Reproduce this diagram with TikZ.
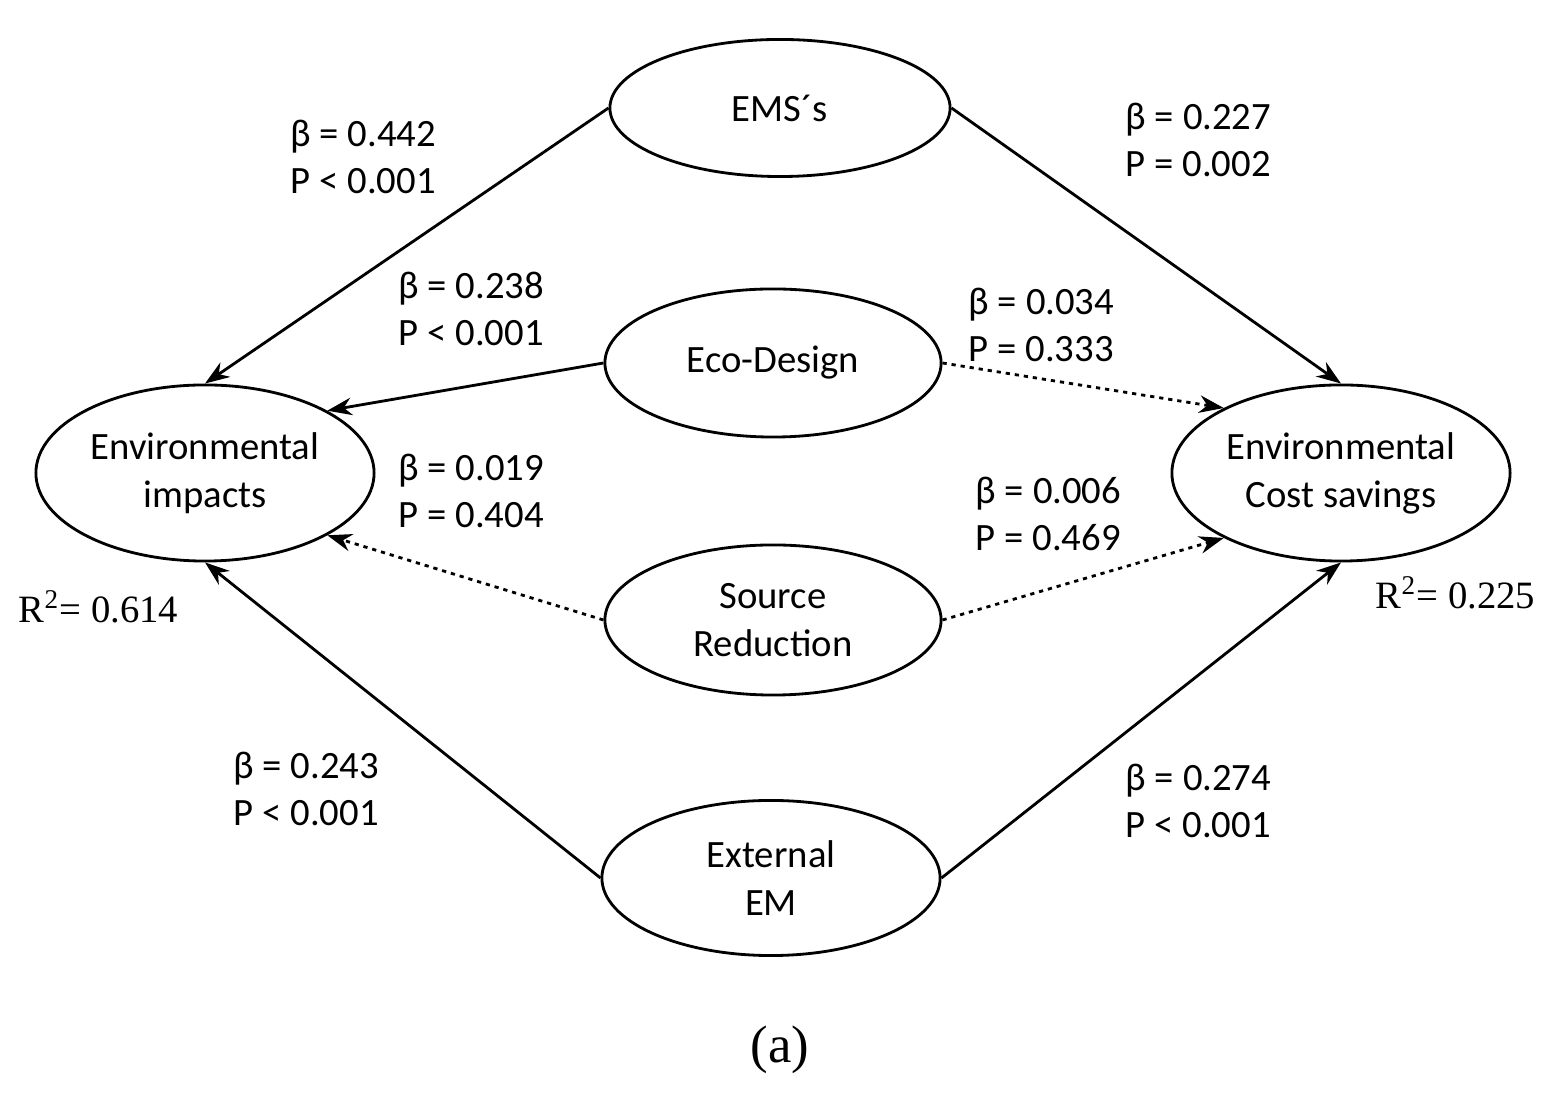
\documentclass[tikz,border=0pt]{standalone}
\usepackage{fontspec}
\setmainfont{Carlito}
\usetikzlibrary{shapes.geometric,arrows.meta}
\begin{document}
\begin{tikzpicture}[x=0.01cm,y=-0.01cm,
  lat/.style={draw,line width=0.8pt,ellipse,inner sep=0pt,align=center,font=\fontsize{11}{13.6}\selectfont},
  lbl/.style={anchor=west,align=left,inner sep=0pt,font=\fontsize{11}{13.6}\selectfont},
  path/.style={line width=0.8pt,-{Stealth[length=7pt,width=5pt]}},
  ns/.style={path,dash pattern=on 1.2pt off 1.4pt}]
\useasboundingbox (0,0) rectangle (1554,1101);
\node[lat,minimum width=3.40cm,minimum height=1.37cm] (ems) at (780,108) {EMS´s};
\node[lat,minimum width=3.36cm,minimum height=1.48cm] (eco) at (773,363) {Eco-Design};
\node[lat,minimum width=3.36cm,minimum height=1.50cm] (src) at (773,620) {Source\\Reduction};
\node[lat,minimum width=3.38cm,minimum height=1.55cm] (ext) at (771,878) {External\\EM};
\node[lat,minimum width=3.38cm,minimum height=1.76cm] (imp) at (205,473) {Environmental\\impacts};
\node[lat,minimum width=3.38cm,minimum height=1.76cm] (cost) at (1341,473) {Environmental\\Cost savings};
\draw[path] (ems.west) -- (imp.north);
\draw[path] (eco.west) -- (imp.27);
\draw[ns] (src.west) -- (imp.-27);
\draw[path] (ext.west) -- (imp.south);
\draw[path] (ems.east) -- (cost.north);
\draw[ns] (eco.east) -- (cost.151);
\draw[ns] (src.east) -- (cost.209);
\draw[path] (ext.east) -- (cost.south);
\node[lbl] (l1) at (290,157) {β = 0.442\\P < 0.001};
\node[lbl] (l2) at (1125,140) {β = 0.227\\P = 0.002};
\node[lbl] (l3) at (398,309) {β = 0.238\\P < 0.001};
\node[lbl] (l4) at (968,325) {β = 0.034\\P = 0.333};
\node[lbl] (l5) at (398,491) {β = 0.019\\P = 0.404};
\node[lbl] (l6) at (975,514) {β = 0.006\\P = 0.469};
\node[lbl] (l7) at (233,789) {β = 0.243\\P < 0.001};
\node[lbl] (l8) at (1125,801) {β = 0.274\\P < 0.001};
\node[lbl] (r1) at (18,607) {\fontspec{Liberation Serif}R\textsuperscript{2}= 0.614};
\node[lbl] (r2) at (1375,593) {\fontspec{Liberation Serif}R\textsuperscript{2}= 0.225};
\node[font=\fontsize{15}{18}\selectfont\fontspec{Liberation Serif}] (cap) at (780,1050) {(a)};
\end{tikzpicture}
\end{document}
